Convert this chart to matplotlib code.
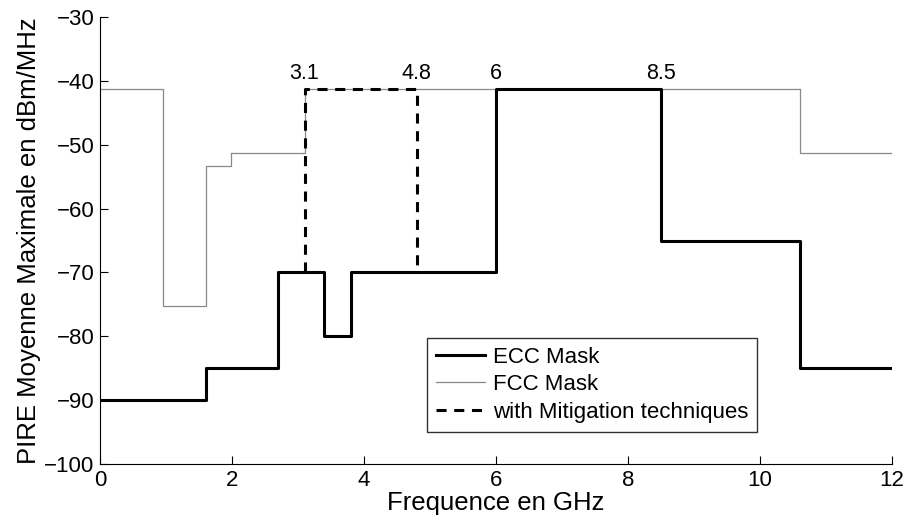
import matplotlib
matplotlib.use("Agg")
import matplotlib.pyplot as plt

plt.rcParams['font.family'] = ['Liberation Sans', 'DejaVu Sans']

# ECC mask (step edges in GHz, levels in dBm/MHz)
ecc_f = [0, 1.6, 2.7, 3.4, 3.8, 6, 8.5, 10.6, 12]
ecc_p = [-90, -85, -70, -80, -70, -41.3, -65, -85]

# FCC mask
fcc_f = [0, 0.96, 1.61, 1.99, 3.1, 10.6, 12]
fcc_p = [-41.3, -75.3, -53.3, -51.3, -41.3, -51.3]

# mitigation band
mit_f = [3.1, 3.1, 4.8, 4.8]
mit_p = [-70, -41.3, -41.3, -70]

labels_x = [3.1, 4.8, 6, 8.5]
labels_txt = ['3.1', '4.8', '6', '8.5']


def steps(edges, levels):
    xs, ys = [], []
    for i, v in enumerate(levels):
        xs += [edges[i], edges[i + 1]]
        ys += [v, v]
    return xs, ys


fig = plt.figure(figsize=(9.07, 5.24), dpi=100)
ax = fig.add_axes([100 / 907, (524 - 464) / 524, 792 / 907, 447 / 524])

x, y = steps(fcc_f, fcc_p)
ax.plot(x, y, color='#888888', lw=0.9, label='FCC Mask', zorder=2)
x, y = steps(ecc_f, ecc_p)
ax.plot(x, y, color='black', lw=2.2, label='ECC Mask', zorder=3)
ax.plot(mit_f, mit_p, color='black', lw=2.2, ls=(0, (3.3, 2.5)),
        label='with Mitigation techniques', zorder=4)

for xv, t in zip(labels_x, labels_txt):
    ax.text(xv, -40.5, t, ha='center', va='bottom', fontsize=15.5)

ax.set_xlim(0, 12)
ax.set_ylim(-100, -30)
ax.set_xticks(range(0, 13, 2))
ax.set_yticks(range(-100, -29, 10))
ax.spines['top'].set_visible(False)
ax.spines['right'].set_visible(False)
ax.tick_params(direction='in', labelsize=16, length=6, pad=4)
ax.set_xlabel('Frequence en GHz', fontsize=18.5, labelpad=0)
ax.set_ylabel('PIRE Moyenne Maximale en dBm/MHz', fontsize=18.5, labelpad=2)

h, l = ax.get_legend_handles_labels()
order = [1, 0, 2]
leg = ax.legend([h[i] for i in order], [l[i] for i in order],
                loc='lower left', bbox_to_anchor=(0.413, 0.072),
                fontsize=16, frameon=True, fancybox=False,
                edgecolor='black', handlelength=2.2, borderpad=0.4,
                labelspacing=0.3, handletextpad=0.35, borderaxespad=0)
leg.get_frame().set_linewidth(1.0)

fig.savefig('out.png', dpi=100)
